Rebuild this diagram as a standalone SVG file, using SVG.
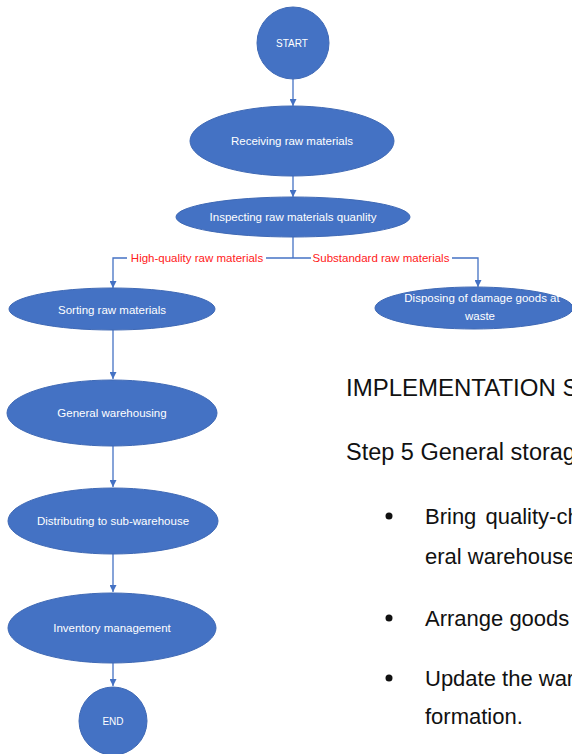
<svg xmlns="http://www.w3.org/2000/svg" width="572" height="754" viewBox="0 0 572 754">
<defs>
<marker id="arr" viewBox="0 0 10 10" refX="10" refY="5" markerWidth="7" markerHeight="7" markerUnits="userSpaceOnUse" orient="auto">
<path d="M0,0 L10,5 L0,10 z" fill="#4472C4"/>
</marker>
<style>
.node{fill:#4472C4;stroke:#3F69B5;stroke-width:1}
.nt{font-family:"Liberation Sans",Arial,sans-serif;font-size:11.5px;fill:#FFFFFF;text-anchor:middle}
.term{font-family:"Liberation Sans",Arial,sans-serif;font-size:10px;fill:#FFFFFF;text-anchor:middle}
.conn{stroke:#4472C4;stroke-width:1.3;fill:none}
.lbl{font-family:"Liberation Sans",Arial,sans-serif;font-size:11.5px;fill:#FF2020;text-anchor:middle}
.body{font-family:"Liberation Sans",Arial,sans-serif;font-size:22px;fill:#111111}
.head{font-family:"Liberation Sans",Arial,sans-serif;font-size:24px;fill:#111111}
</style>
</defs>
<rect width="572" height="754" fill="#FFFFFF"/>

<g id="connectors">
<line class="conn" x1="293" y1="79" x2="293" y2="106" marker-end="url(#arr)"/>
<line class="conn" x1="293" y1="176" x2="293" y2="197" marker-end="url(#arr)"/>
<line class="conn" x1="293" y1="237" x2="293" y2="258"/>
<polyline class="conn" points="127,258 113,258 113,288" marker-end="url(#arr)"/>
<line class="conn" x1="266" y1="258" x2="311" y2="258"/>
<polyline class="conn" points="452,258 478,258 478,287" marker-end="url(#arr)"/>
<text class="lbl" x="197" y="262">High-quality raw materials</text>
<text class="lbl" x="381" y="262">Substandard raw materials</text>
<line class="conn" x1="113" y1="330" x2="113" y2="379" marker-end="url(#arr)"/>
<line class="conn" x1="113" y1="446" x2="113" y2="487" marker-end="url(#arr)"/>
<line class="conn" x1="113" y1="554" x2="113" y2="592" marker-end="url(#arr)"/>
<line class="conn" x1="113" y1="663" x2="113" y2="686" marker-end="url(#arr)"/>
</g>

<g id="start">
<circle class="node" cx="293" cy="43" r="36"/>
<text class="term" x="292" y="47">START</text>
</g>
<g id="receiving">
<ellipse class="node" cx="292" cy="141" rx="102" ry="35"/>
<text class="nt" x="292" y="145">Receiving raw materials</text>
</g>
<g id="inspecting">
<ellipse class="node" cx="293" cy="217" rx="117" ry="20"/>
<text class="nt" x="293" y="221">Inspecting raw materials quanlity</text>
</g>
<g id="sorting">
<ellipse class="node" cx="112" cy="309" rx="103" ry="21"/>
<text class="nt" x="112" y="314">Sorting raw materials</text>
</g>
<g id="disposing">
<ellipse class="node" cx="474" cy="308" rx="99" ry="21"/>
<text class="nt" x="482" y="302">Disposing of damage goods at</text>
<text class="nt" x="480" y="320">waste</text>
</g>
<g id="general">
<ellipse class="node" cx="112" cy="413" rx="105" ry="33"/>
<text class="nt" x="112" y="417">General warehousing</text>
</g>
<g id="distributing">
<ellipse class="node" cx="113" cy="521" rx="105" ry="33"/>
<text class="nt" x="113" y="525">Distributing to sub-warehouse</text>
</g>
<g id="inventory">
<ellipse class="node" cx="112" cy="628" rx="104" ry="35"/>
<text class="nt" x="112" y="632">Inventory management</text>
</g>
<g id="end">
<circle class="node" cx="113" cy="721" r="34"/>
<text class="term" x="113" y="725">END</text>
</g>

<g id="text">
<text class="head" x="346" y="396">IMPLEMENTATION S</text>
<text class="head" x="346" y="460" style="font-size:23.5px">Step 5 General storag</text>
<circle cx="389" cy="516" r="3.5" fill="#111111"/>
<text class="body" x="425" y="524" word-spacing="3">Bring quality-ch</text>
<text class="body" x="425" y="564">eral warehouse</text>
<circle cx="389" cy="618" r="3.5" fill="#111111"/>
<text class="body" x="425" y="626">Arrange goods</text>
<circle cx="389" cy="678" r="3.5" fill="#111111"/>
<text class="body" x="425" y="686">Update the war</text>
<text class="body" x="425" y="724">formation.</text>
</g>
</svg>
